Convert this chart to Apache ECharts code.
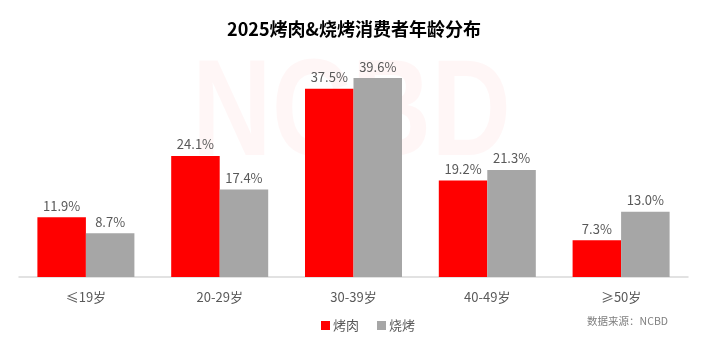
<!DOCTYPE html>
<html><head><meta charset="utf-8">
<script src="https://cdn.jsdelivr.net/npm/echarts@6/dist/echarts.min.js"></script>
<style>html,body{margin:0;padding:0;background:#fff}#c{width:708px;height:345px}</style>
</head><body><div id="c"></div>
<script>
const categories = ['≤19岁', '20-29岁', '30-39岁', '40-49岁', '≥50岁'];
const seriesNames = ['烤肉', '烧烤'];
const roastMeat = [11.9, 24.1, 37.5, 19.2, 7.3];
const bbq = [8.7, 17.4, 39.6, 21.3, 13.0];
const titleText = '2025烤肉&烧烤消费者年龄分布';
const sourceText = '数据来源：NCBD';

const font = '"Microsoft YaHei", "Noto Sans CJK SC", sans-serif';
const chart = echarts.init(document.getElementById('c'), null, {renderer: 'canvas'});
const labelStyle = {show: true, position: 'top', distance: 5, color: '#595959', fontSize: 13, fontFamily: font, formatter: p => p.value.toFixed(1) + '%'};
chart.setOption({
  backgroundColor: '#fff',
  animation: false,
  title: {text: titleText, left: 'center', top: 15, textStyle: {fontSize: 18, fontWeight: 'bold', color: '#000', fontFamily: font}},
  graphic: [
    {type: 'text', x: 192, y: 48, scaleX: 0.8, z: 0, style: {text: 'NCBD', fontSize: 138, fontWeight: 'bold', fontFamily: 'Arial, sans-serif', fill: 'rgba(255,0,0,0.035)'}},
    {type: 'text', right: 40, top: 316, style: {text: sourceText, fontSize: 10.5, fontFamily: font, fill: '#7f7f7f'}}
  ],
  legend: {data: seriesNames, left: 316, top: 314, itemWidth: 9, itemHeight: 9, itemGap: 18, icon: 'rect',
    textStyle: {fontSize: 13, color: '#595959', fontFamily: font, padding: [0,0,0,-2]}},
  grid: {left: 19, right: 20, top: 51, bottom: 68},
  xAxis: {type: 'category', data: categories,
    axisLine: {lineStyle: {color: '#d9d9d9', width: 1.5}}, axisTick: {show: false},
    axisLabel: {color: '#595959', fontSize: 13, fontFamily: font, margin: 14}},
  yAxis: {type: 'value', min: 0, max: 45, show: false, splitLine: {show: false}},
  series: [
    {name: seriesNames[0], type: 'bar', data: roastMeat, barGap: '0%', barCategoryGap: '27.5%', itemStyle: {color: '#ff0000'}, label: labelStyle, z: 2},
    {name: seriesNames[1], type: 'bar', data: bbq, itemStyle: {color: '#a6a6a6'}, label: labelStyle, z: 2}
  ]
});
</script></body></html>
